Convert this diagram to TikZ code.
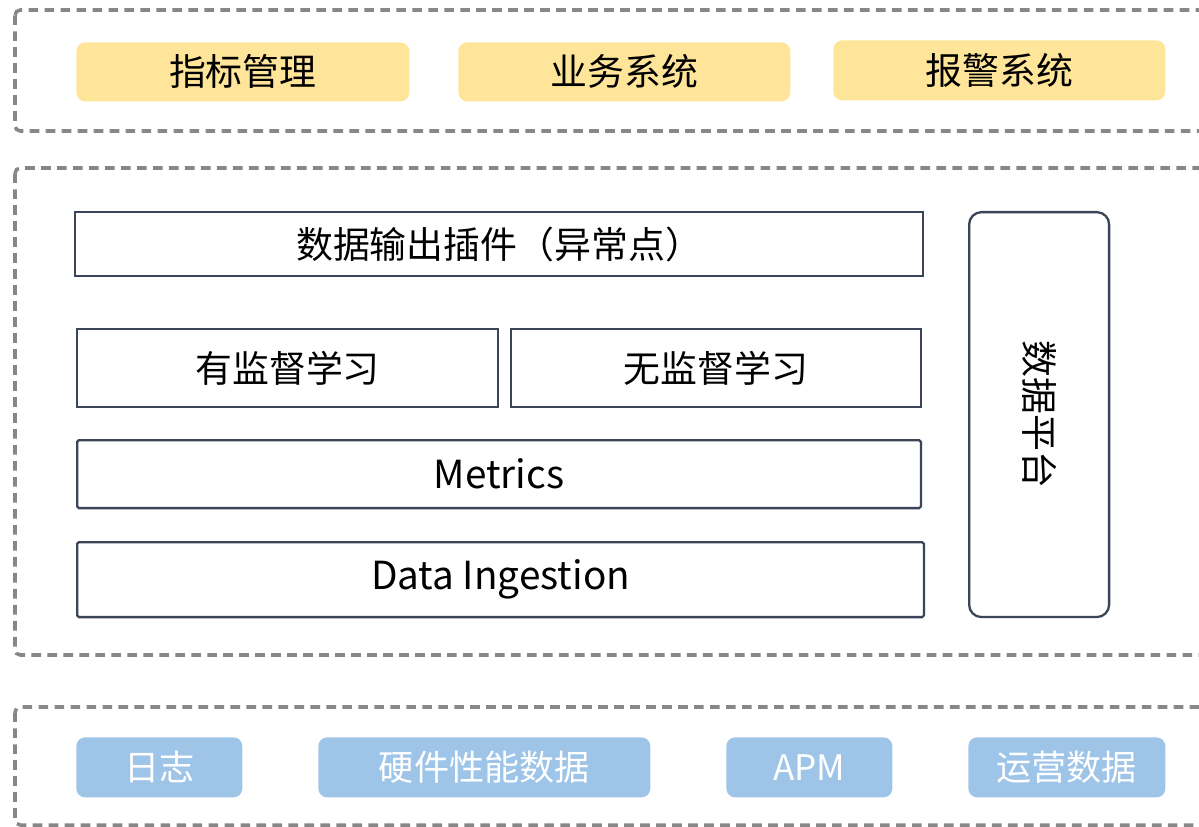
\documentclass[tikz,border=0pt]{standalone}
\usepackage{fontspec}
\setmainfont{Noto Sans CJK SC}
\usepackage{tikz}
\definecolor{dashgray}{rgb}{0.53, 0.53, 0.53}
\definecolor{edge}{rgb}{0.23, 0.27, 0.34}
\definecolor{yellow}{rgb}{1.0, 0.9, 0.6}
\definecolor{blue}{rgb}{0.62, 0.77, 0.91}
\tikzset{
	layer/.style={draw=dashgray,line width=2pt,dash pattern=on 5.5pt off 3.6pt,rounded corners=3pt},
	ybox/.style={fill=yellow,rounded corners=5pt,anchor=north west,font=\fontsize{21}{25}\selectfont,text=black},
	wbox/.style={draw=edge,line width=1.3pt,fill=white,anchor=north west,font=\fontsize{21}{25}\selectfont,text=black},
	bbox/.style={fill=blue,rounded corners=5pt,anchor=north west,font=\fontsize{20}{24}\selectfont,text=white}
}

\begin{document}
\begin{tikzpicture}[x=0.02cm,y=-0.02cm]
	 	 		\useasboundingbox (0,0) rectangle (1199,827);
	 	 		\clip (0,0) rectangle (1199,827);
	 	 		% three layers
	 	 		\draw[layer] (15,10) rectangle (1215,131);
	 	 		\draw[layer] (15,168) rectangle (1215,655);
	 	 		\draw[layer] (15,707) rectangle (1215,825);
	 	 		% application
	 	 		\node[ybox,minimum width=6.66cm,minimum height=1.18cm] (metricmgr) at (76,42) {指标管理};
	 	 		\node[ybox,minimum width=6.64cm,minimum height=1.18cm] (business) at (458,42) {业务系统};
	 	 		\node[ybox,minimum width=6.64cm,minimum height=1.2cm] (alarm) at (833,40) {报警系统};
	 	 		% detection
	 	 		\node[wbox,minimum width=16.96cm,minimum height=1.28cm] (output) at (74,211) {数据输出插件（异常点）};
	 	 		\node[wbox,minimum width=8.42cm,minimum height=1.56cm] (supervised) at (76,328) {有监督学习};
	 	 		\node[wbox,minimum width=8.2cm,minimum height=1.56cm] (unsupervised) at (510,328) {无监督学习};
	 	 		\node[wbox,minimum width=16.88cm,minimum height=1.36cm,rounded corners=1pt,font=\fontsize{22}{26}\selectfont] (metrics) at (76,439) {Metrics};
	 	 		\node[wbox,minimum width=16.94cm,minimum height=1.5cm,rounded corners=1pt,font=\fontsize{22}{26}\selectfont] (ingest) at (76,541) {Data Ingestion};
	 	 		\node[wbox,minimum width=2.8cm,minimum height=8.1cm,rounded corners=7pt] (platform) at (968,211) {};
	 	 		\node[font=\fontsize{21}{25}\selectfont,rotate=-90] (platformlbl) at (platform.center) {数据平台};
	 	 		% sources
	 	 		\node[bbox,minimum width=3.32cm,minimum height=1.2cm] (logs) at (76,737) {日志};
	 	 		\node[bbox,minimum width=6.64cm,minimum height=1.2cm] (hardware) at (318,737) {硬件性能数据};
	 	 		\node[bbox,minimum width=3.32cm,minimum height=1.2cm] (apm) at (726,737) {APM};
	 	 		\node[bbox,minimum width=3.94cm,minimum height=1.2cm] (ops) at (968,737) {运营数据};
	 	 		\end{tikzpicture}
\end{document}
